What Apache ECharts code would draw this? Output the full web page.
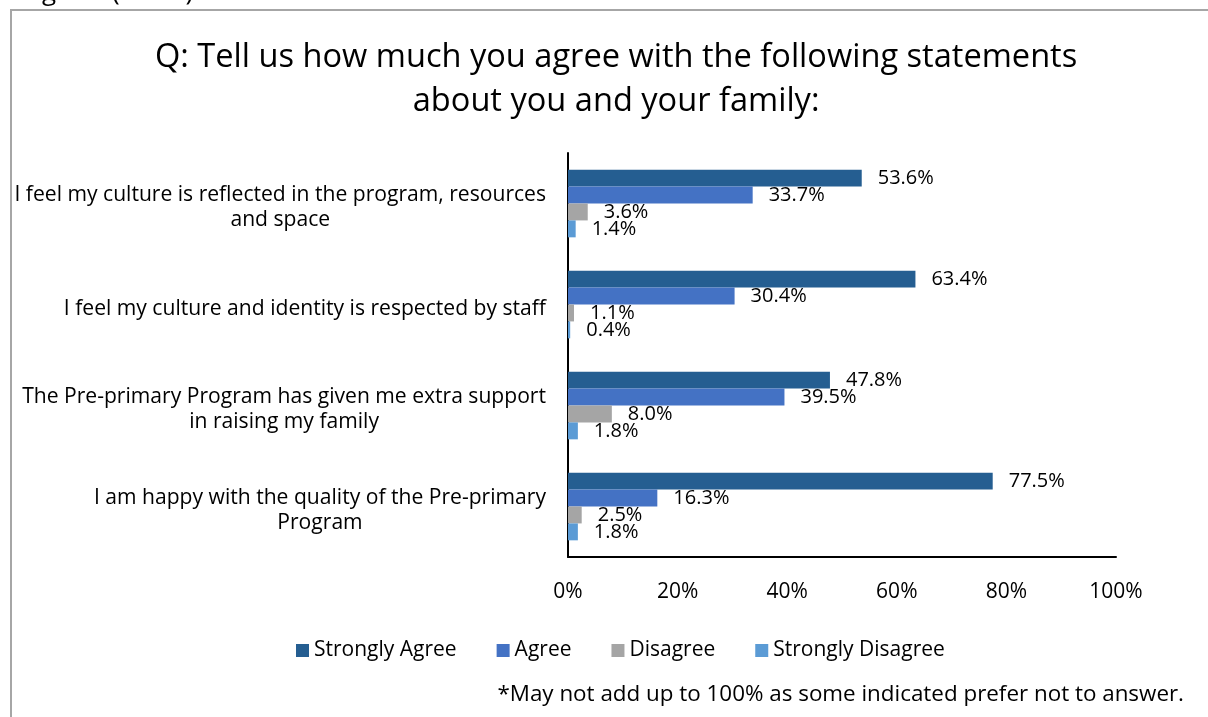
<!DOCTYPE html>
<html>
<head>
<meta charset="utf-8">
<script src="https://cdn.jsdelivr.net/npm/echarts@6/dist/echarts.min.js"></script>
<style>
  html, body { margin: 0; padding: 0; background: #fff; }
  #chart { width: 1208px; height: 717px; }
</style>
</head>
<body>
<div id="chart"></div>
<script>
// Survey statements (each entry holds the wrapped lines of the label)
const statements = [
  ['I feel my culture is reflected in the program, resources', 'and space'],
  ['I feel my culture and identity is respected by staff'],
  ['The Pre-primary Program has given me extra support', 'in raising my family'],
  ['I am happy with the quality of the Pre-primary', 'Program']
];
const seriesNames = ['Strongly Agree', 'Agree', 'Disagree', 'Strongly Disagree'];
const stronglyAgree = [53.6, 63.4, 47.8, 77.5];
const agree = [33.7, 30.4, 39.5, 16.3];
const disagree = [3.6, 1.1, 8.0, 2.5];
const stronglyDisagree = [1.4, 0.4, 1.8, 1.8];
const xTicks = [0, 20, 40, 60, 80, 100];
const titleLines = ['Q: Tell us how much you agree with the following statements', 'about you and your family:'];

const colors = ['#255E91', '#4472C4', '#A5A5A5', '#5B9BD5'];
const FONT = 'Open Sans';
const values = [stronglyAgree, agree, disagree, stronglyDisagree];

const chart = echarts.init(document.getElementById('chart'), null, { renderer: 'canvas' });

const categories = statements.map(lines => lines.join('\n'));
// wrap each line in a centred rich-text token
const centred = (lines, key) => lines.map(l => '{' + key + '|' + l + '}').join('\n');

chart.setOption({
  backgroundColor: '#ffffff',
  animation: false,
  textStyle: { fontFamily: FONT },
  title: {
    text: centred(titleLines, 't'),
    left: 150,
    top: 31,
    textStyle: {
      fontFamily: FONT, fontSize: 32.6, fontWeight: 'normal', color: '#000', lineHeight: 44,
      rich: { t: { align: 'center', fontFamily: FONT, fontSize: 32.6, color: '#000', lineHeight: 44 } }
    }
  },
  legend: {
    data: seriesNames,
    top: 635,
    left: 291,
    itemWidth: 13,
    itemHeight: 13,
    itemGap: 40,
    icon: 'rect',
    textStyle: { fontFamily: FONT, fontSize: 21, color: '#000' }
  },
  grid: { left: 568, right: 92, top: 153, bottom: 160, containLabel: false },
  xAxis: {
    type: 'value',
    min: xTicks[0],
    max: xTicks[xTicks.length - 1],
    interval: xTicks[1] - xTicks[0],
    axisLine: { show: true, lineStyle: { color: '#000', width: 2 } },
    axisTick: { show: false },
    splitLine: { show: false },
    axisLabel: { formatter: '{value}%', fontSize: 21, color: '#000', margin: 25, fontFamily: FONT }
  },
  yAxis: {
    type: 'category',
    inverse: true,
    data: categories,
    axisLine: { show: true, lineStyle: { color: '#000', width: 2 } },
    axisTick: { show: false },
    axisLabel: {
      margin: 22,
      color: '#000',
      fontSize: 21.1,
      fontFamily: FONT,
      lineHeight: 25,
      padding: [8, 0, 0, 0],
      formatter: v => centred(v.split('\n'), 'c'),
      rich: { c: { align: 'center', fontSize: 21.1, fontFamily: FONT, color: '#000', lineHeight: 25 } }
    }
  },
  series: seriesNames.map((name, i) => ({
    name,
    type: 'bar',
    data: values[i],
    barGap: '0%',
    barCategoryGap: '33%',
    itemStyle: { color: colors[i] },
    label: {
      show: true,
      position: 'right',
      distance: 16,
      formatter: p => p.value.toFixed(1) + '%',
      fontSize: 20,
      fontFamily: FONT,
      color: '#000'
    }
  })),
  graphic: [
    {
      type: 'text',
      left: 0,
      top: -20,
      style: { text: 'Program (PASN).', fontSize: 26, fontFamily: FONT, fill: '#000' }
    },
    {
      type: 'polyline',
      shape: { points: [[11, 717], [11, 10], [1208, 10]] },
      style: { stroke: '#A6A6A6', lineWidth: 2, fill: null }
    },
    {
      type: 'text',
      right: 24,
      top: 684,
      style: { text: '*May not add up to 100% as some indicated prefer not to answer.', fontSize: 22.4, fontFamily: FONT, fill: '#000' }
    }
  ]
});
</script>
</body>
</html>
